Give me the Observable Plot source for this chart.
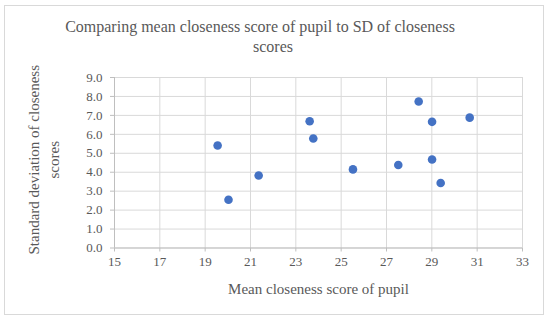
<!DOCTYPE html>
<html>
<head>
<meta charset="utf-8">
<script src="https://cdn.jsdelivr.net/npm/d3@7"></script>
<script src="https://cdn.jsdelivr.net/npm/@observablehq/plot@0.6"></script>
<style>
  html, body { margin: 0; padding: 0; background: #fff; }
  #wrap { position: relative; width: 550px; height: 321px; overflow: hidden; font-family: "Liberation Serif", "DejaVu Serif", serif; }
  #frame { position: absolute; left: 4px; top: 5px; width: 540px; height: 310px; border: 1px solid #d9d9d9; box-sizing: border-box; }
  .tline { position: absolute; white-space: nowrap; font-size: 16px; color: #595959; transform: translateX(-50%); }
  #chart { position: absolute; left: 0; top: 0; }
</style>
</head>
<body>
<div id="wrap">
  <div id="frame"></div>
  <div id="chart"></div>
  <div class="tline" id="t1" style="left:260px; top:18px;"></div>
  <div class="tline" id="t2" style="left:273px; top:38px;"></div>
</div>
<script>
const titleLines = ["Comparing mean closeness score of pupil to SD of closeness", "scores"];
const xLabel = "Mean closeness score of pupil";
const yLabelLines = ["Standard deviation of closeness", "scores"];
const meanScore = [19.55, 20.03, 21.36, 23.61, 23.77, 25.52, 28.42, 29.01, 30.67, 27.52, 29.01, 29.39];
const sdScore   = [5.41, 2.55, 3.83, 6.69, 5.78, 4.15, 7.73, 6.66, 6.88, 4.38, 4.67, 3.43];
const xTicks = [15, 17, 19, 21, 23, 25, 27, 29, 31, 33];
const yTicks = [0, 1, 2, 3, 4, 5, 6, 7, 8, 9];

document.getElementById("t1").textContent = titleLines[0];
document.getElementById("t2").textContent = titleLines[1];

const data = meanScore.map((x, i) => ({x, y: sdScore[i]}));
const font = "Liberation Serif";

const chart = Plot.plot({
  width: 550,
  height: 321,
  marginLeft: 114,
  marginRight: 28,
  marginTop: 77,
  marginBottom: 73.5,
  style: {fontFamily: font, background: "transparent", overflow: "visible"},
  x: {domain: [15, 33]},
  y: {domain: [0, 9]},
  marks: [
    Plot.gridX(xTicks, {stroke: "#d9d9d9", strokeOpacity: 1}),
    Plot.gridY(yTicks, {stroke: "#d9d9d9", strokeOpacity: 1}),
    Plot.ruleY([0], {stroke: "#bfbfbf"}),
    Plot.ruleX([15], {stroke: "#bfbfbf"}),
    Plot.axisX(xTicks, {tickSize: 4, tickPadding: 5, stroke: "#bfbfbf", fill: "#595959", fontSize: 13, label: null, tickFormat: d => String(d)}),
    Plot.axisY(yTicks, {tickSize: 4, tickPadding: 8, stroke: "#bfbfbf", fill: "#595959", fontSize: 13, label: null, tickFormat: d => d.toFixed(1)}),
    Plot.dot(data, {x: "x", y: "y", r: 4.3, fill: "#4472c4", stroke: "none"}),
    Plot.text([xLabel], {frameAnchor: "bottom", dy: 41, fill: "#595959", fontSize: 15, lineAnchor: "middle"}),
    Plot.text([yLabelLines.join("\n")], {frameAnchor: "left", textAnchor: "middle", dx: -72, dy: -3, rotate: -90, fill: "#595959", fontSize: 15, lineHeight: 1.35, lineAnchor: "middle"})
  ]
});
document.getElementById("chart").appendChild(chart);
</script>
</body>
</html>
